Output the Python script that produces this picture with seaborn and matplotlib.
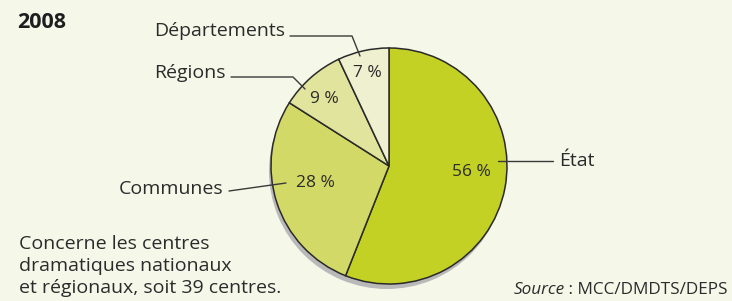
import seaborn as sns
import matplotlib.pyplot as plt

# data
categories = ["État", "Communes", "Régions", "Départements"]
shares = [56, 28, 9, 7]
pct_labels = ["56 %", "28 %", "9 %", "7 %"]
slice_colors = ["#c3d024", "#d3d966", "#e1e49c", "#eef0cf"]

sns.set_theme(style="white")
plt.rcParams["font.family"] = ["Open Sans", "DejaVu Sans"]

bg = "#f5f7e9"
ink = "#2b2b2b"
W, H = 732, 301
fig = plt.figure(figsize=(W / 100, H / 100), dpi=100, facecolor=bg)
ax = fig.add_axes([0, 0, 1, 1])
ax.set_facecolor(bg)

cx, cy, r = 389, H - 166, 118

# shadow
ax.pie([1], colors=["#b9b9b9"], center=(cx - 2, cy - 5), radius=r,
       wedgeprops=dict(linewidth=0), frame=True)
wedges, _ = ax.pie(shares, colors=slice_colors, startangle=90, counterclock=False,
                   center=(cx, cy), radius=r, frame=True,
                   wedgeprops=dict(edgecolor="#2a2a2a", linewidth=1.1))
ax.set_xlim(0, W)
ax.set_ylim(0, H)
ax.set_aspect("equal")
ax.axis("off")

# percentage labels (offsets from centre, in pixels)
pct_pos = [(82, -6), (-74, -17), (-65, 67), (-22, 93)]
for lab, (dx, dy) in zip(pct_labels, pct_pos):
    ax.text(cx + dx, cy + dy, lab, ha="center", va="center", fontsize=12.5, color=ink)

# category labels with leader lines
fs = 14
lc = dict(color="#3a3a3a", lw=1.0)
ax.plot([498, 553], [H - 161, H - 161], **lc)
ax.text(559, H - 161, categories[0], ha="left", va="center", fontsize=fs, color=ink)

ax.plot([229, 286], [H - 191, H - 183], **lc)
ax.text(223, H - 189, categories[1], ha="right", va="center", fontsize=fs, color=ink)

ax.plot([231, 293, 305], [H - 77, H - 77, H - 89], **lc)
ax.text(226, H - 73, categories[2], ha="right", va="center", fontsize=fs, color=ink)

ax.plot([290, 352, 360], [H - 36, H - 36, H - 56], **lc)
ax.text(285, H - 31, categories[3], ha="right", va="center", fontsize=fs, color=ink)

# title and notes
ax.text(17, H - 22, "2008", ha="left", va="center", fontsize=15.5, fontweight="bold", color="#1e1e1e")
ax.text(19, H - 266, "Concerne les centres\ndramatiques nationaux\net régionaux, soit 39 centres.",
        ha="left", va="center", fontsize=fs, color=ink, linespacing=1.32)

src = ax.text(728, H - 290, " : MCC/DMDTS/DEPS", ha="right", va="center", fontsize=12.3, color=ink)
ax.annotate("Source", xy=(0, 0.5), xycoords=src, ha="right", va="center",
            fontsize=12.3, fontstyle="italic", color=ink)

fig.savefig("out.png", dpi=100, facecolor=bg)
